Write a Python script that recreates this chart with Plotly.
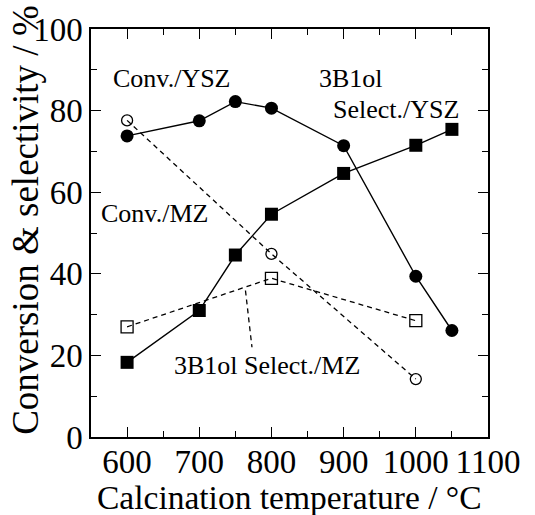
import plotly.graph_objects as go

FONT = "Liberation Serif"

temp_ysz = [600, 700, 750, 800, 900, 1000, 1050]
conv_ysz = [73.8, 77.5, 82.2, 80.6, 71.4, 39.4, 26.1]
select_ysz = [18.3, 31.0, 44.6, 54.6, 64.6, 71.5, 75.4]

temp_mz = [600, 800, 1000]
conv_mz = [77.6, 44.9, 14.2]
select_mz = [27.0, 38.9, 28.5]

leader_x = [764, 773]
leader_y = [35.9, 22.0]

fig = go.Figure()

fig.add_trace(go.Scatter(x=temp_mz, y=conv_mz, mode="lines+markers",
    line=dict(color="black", width=1.3, dash="5px,4px"),
    marker=dict(symbol="circle-open", size=11, color="black", line=dict(width=1.3))))
fig.add_trace(go.Scatter(x=temp_mz, y=select_mz, mode="lines+markers",
    line=dict(color="black", width=1.3, dash="5px,4px"),
    marker=dict(symbol="square-open", size=12, color="black", line=dict(width=1.3))))
fig.add_trace(go.Scatter(x=leader_x, y=leader_y, mode="lines",
    line=dict(color="black", width=1.3, dash="5px,4px")))
fig.add_trace(go.Scatter(x=temp_ysz, y=conv_ysz, mode="lines+markers",
    line=dict(color="black", width=1.4),
    marker=dict(symbol="circle", size=13, color="black")))
fig.add_trace(go.Scatter(x=temp_ysz, y=select_ysz, mode="lines+markers",
    line=dict(color="black", width=1.4),
    marker=dict(symbol="square", size=13, color="black")))

axis_common = dict(
    showgrid=False, zeroline=False, showline=True, linecolor="black", linewidth=1.5,
    mirror="allticks", ticks="inside", ticklen=10, tickwidth=1.3, tickcolor="black",
    tickfont=dict(family=FONT, size=33, color="black"),
)

fig.update_xaxes(range=[550, 1100], tick0=600, dtick=100, ticklabelstandoff=-5,
    minor=dict(ticks="inside", ticklen=6, tickwidth=1.3, tickcolor="black", dtick=50, tick0=550),
    **axis_common)
fig.update_yaxes(range=[0, 100], tick0=0, dtick=20,
    minor=dict(ticks="inside", ticklen=6, tickwidth=1.3, tickcolor="black", dtick=10),
    **axis_common)

ann_font = dict(family=FONT, size=26, color="black")
annotations = [
    dict(x=662, y=87.8, text="Conv./YSZ", xanchor="center"),
    dict(x=863, y=87.8, text="3B1ol", xanchor="left"),
    dict(x=1063, y=80.2, text="Select./YSZ", xanchor="right"),
    dict(x=638, y=54.9, text="Conv./MZ", xanchor="center"),
    dict(x=794, y=17.6, text="3B1ol Select./MZ", xanchor="center"),
]
for a in annotations:
    fig.add_annotation(xref="x", yref="y", showarrow=False, yanchor="middle",
                       font=ann_font, **a)

fig.add_annotation(xref="paper", yref="paper", x=0.5, y=-0.149,
    text="Calcination temperature / °C", showarrow=False,
    xanchor="center", yanchor="middle", font=dict(family=FONT, size=33.5, color="black"))
fig.add_annotation(xref="paper", yref="paper", x=-0.164, y=0.532,
    text="Conversion & selectivity / %", showarrow=False, textangle=-90,
    xanchor="center", yanchor="middle", font=dict(family=FONT, size=37, color="black"))

fig.update_layout(width=535, height=515, showlegend=False,
    margin=dict(l=91, r=47, t=27, b=78),
    paper_bgcolor="white", plot_bgcolor="white")

fig.write_html("out.html", config={"displayModeBar": False},
               post_script="document.body.style.margin='0';document.body.style.overflow='hidden';")
